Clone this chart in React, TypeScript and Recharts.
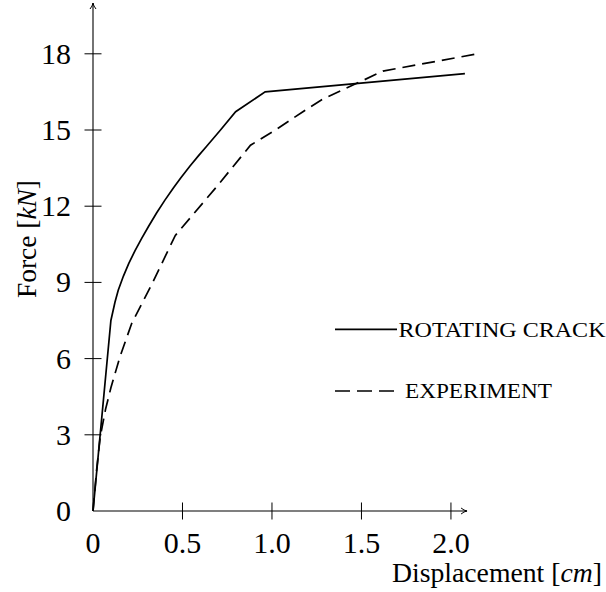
import React from 'react';
import { LineChart, Line, XAxis, YAxis, ReferenceLine, Legend } from 'recharts';

const rotatingX = [0, 0.1, 0.123, 0.141, 0.17, 0.2, 0.235, 0.272, 0.31, 0.356, 0.4, 0.449, 0.49, 0.542, 0.59, 0.635, 0.71, 0.797, 0.962, 2.078];
const rotatingY = [0, 7.5, 8.23, 8.69, 9.25, 9.75, 10.25, 10.73, 11.2, 11.74, 12.22, 12.72, 13.11, 13.58, 13.99, 14.36, 14.98, 15.72, 16.5, 17.22];

const experimentX = [0, 0.02, 0.04, 0.07, 0.1, 0.15, 0.216, 0.33, 0.46, 0.69, 0.88, 1.03, 1.175, 1.28, 1.62, 2.134];
const experimentY = [0, 1.6, 2.9, 4.0, 4.85, 6.06, 7.38, 8.95, 10.85, 12.76, 14.4, 15.05, 15.73, 16.2, 17.32, 17.98];

const xTicks = [0, 0.5, 1, 1.5, 2];
const xTickLabels = ['0', '0.5', '1.0', '1.5', '2.0'];
const yTicks = [0, 3, 6, 9, 12, 15, 18];
const yTickLabels = ['0', '3', '6', '9', '12', '15', '18'];

const xAxisEnd = 2.09;
const yAxisEnd = 20;

const seriesNames = ['ROTATING CRACK', 'EXPERIMENT'];

const rotatingData = rotatingX.map((x, i) => ({ x, y: rotatingY[i] }));
const experimentData = experimentX.map((x, i) => ({ x, y: experimentY[i] }));

const FONT = '"Liberation Serif", "DejaVu Serif", serif';

const XTick = (props: any) => {
  const { x, y, payload } = props;
  const idx = xTicks.indexOf(payload.value);
  const label = idx >= 0 ? xTickLabels[idx] : String(payload.value);
  return (
    <g>
      {payload.value !== 0 && <line x1={x} x2={x} y1={y - 8.5} y2={y + 8.5} stroke="#000" strokeWidth={1} />}
      <text x={x} y={y + 42} textAnchor="middle" fontFamily={FONT} fontSize={30} fill="#000">
        {label}
      </text>
    </g>
  );
};

const YTick = (props: any) => {
  const { x, y, payload } = props;
  const idx = yTicks.indexOf(payload.value);
  const label = idx >= 0 ? yTickLabels[idx] : String(payload.value);
  return (
    <g>
      {payload.value !== 0 && <line x1={x - 8.5} x2={x + 8.5} y1={y} y2={y} stroke="#000" strokeWidth={1} />}
      <text x={x - 22} y={y + 10} textAnchor="end" fontFamily={FONT} fontSize={30} fill="#000">
        {label}
      </text>
    </g>
  );
};

const XArrowAxis = (props: any) => {
  const { x1, y1, x2, y2 } = props;
  return (
    <g>
      <line x1={x1} y1={y1} x2={x2} y2={y2} stroke="#000" strokeWidth={1.1} />
      <path d={`M ${x2 - 6} ${y2 - 3} Q ${x2 - 3} ${y2 - 0.5} ${x2} ${y2} Q ${x2 - 3} ${y2 + 0.5} ${x2 - 6} ${y2 + 3}`} fill="none" stroke="#000" strokeWidth={1} />
    </g>
  );
};

const YArrowAxis = (props: any) => {
  const { x1, y1, x2, y2 } = props;
  const tx = y1 < y2 ? x1 : x2;
  const ty = Math.min(y1, y2);
  return (
    <g>
      <line x1={x1} y1={y1} x2={x2} y2={y2} stroke="#000" strokeWidth={1.1} />
      <path d={`M ${tx - 3} ${ty + 6} Q ${tx - 0.5} ${ty + 3} ${tx} ${ty} Q ${tx + 0.5} ${ty + 3} ${tx + 3} ${ty + 6}`} fill="none" stroke="#000" strokeWidth={1} />
    </g>
  );
};

const XLabel = (props: any) => {
  const vb = props.viewBox || {};
  return (
    <text x={vb.x + vb.width + 126} y={582} textAnchor="end" fontFamily={FONT} fontSize={27} fill="#000" textLength={210} lengthAdjust="spacingAndGlyphs">
      <tspan>Displacement [</tspan>
      <tspan fontStyle="italic">cm</tspan>
      <tspan>]</tspan>
    </text>
  );
};

const YLabel = (props: any) => {
  const cx = 36;
  const cy = 239;
  return (
    <text x={cx} y={cy} textAnchor="middle" transform={`rotate(-90, ${cx}, ${cy})`} fontFamily={FONT} fontSize={27} fill="#000" textLength={118} lengthAdjust="spacingAndGlyphs">
      <tspan>Force [</tspan>
      <tspan fontStyle="italic">kN</tspan>
      <tspan>]</tspan>
    </text>
  );
};

const LegendContent = () => (
  <svg width={276} height={100} style={{ display: 'block', overflow: 'visible' }}>
    <line x1={5} x2={67} y1={19.3} y2={19.3} stroke="#000" strokeWidth={1.7} />
    <text x={68.5} y={26.7} fontFamily={FONT} fontSize={21} fill="#000" textLength={207} lengthAdjust="spacingAndGlyphs">
      {seriesNames[0]}
    </text>
    <line x1={5} x2={64} y1={81} y2={81} stroke="#000" strokeWidth={1.7} strokeDasharray="15 7" />
    <text x={75} y={87.7} fontFamily={FONT} fontSize={21} fill="#000" textLength={147} lengthAdjust="spacingAndGlyphs">
      {seriesNames[1]}
    </text>
  </svg>
);

export default function App() {
  return (
    <div style={{ position: 'absolute', left: 0, top: 0, width: 606, height: 592, background: '#fff' }}>
      <LineChart width={606} height={592} margin={{ top: 3, right: 130, bottom: 21, left: 0 }}>
        <XAxis
          dataKey="x"
          type="number"
          domain={[0, 2.14]}
          ticks={xTicks}
          interval={0}
          tickSize={0}
          tickMargin={0}
          axisLine={false}
          tickLine={false}
          tick={<XTick />}
          height={60}
          label={<XLabel />}
        />
        <YAxis
          dataKey="y"
          type="number"
          domain={[0, 20]}
          ticks={yTicks}
          interval={0}
          tickSize={0}
          tickMargin={0}
          axisLine={false}
          tickLine={false}
          tick={<YTick />}
          width={93}
          label={<YLabel />}
        />
        <ReferenceLine segment={[{ x: 0, y: 0 }, { x: xAxisEnd, y: 0 }]} shape={<XArrowAxis />} />
        <ReferenceLine segment={[{ x: 0, y: 0 }, { x: 0, y: yAxisEnd }]} shape={<YArrowAxis />} />
        <Line data={rotatingData} dataKey="y" name={seriesNames[0]} type="linear" stroke="#000" strokeWidth={1.7} dot={false} isAnimationActive={false} />
        <Line data={experimentData} dataKey="y" name={seriesNames[1]} type="linear" stroke="#000" strokeWidth={1.7} strokeDasharray="13 7" dot={false} isAnimationActive={false} />
        <Legend
          layout="horizontal"
          verticalAlign="middle"
          align="center"
          content={<LegendContent />}
          wrapperStyle={{ position: 'absolute', left: 330, top: 310, width: 276, height: 100 }}
        />
      </LineChart>
    </div>
  );
}
